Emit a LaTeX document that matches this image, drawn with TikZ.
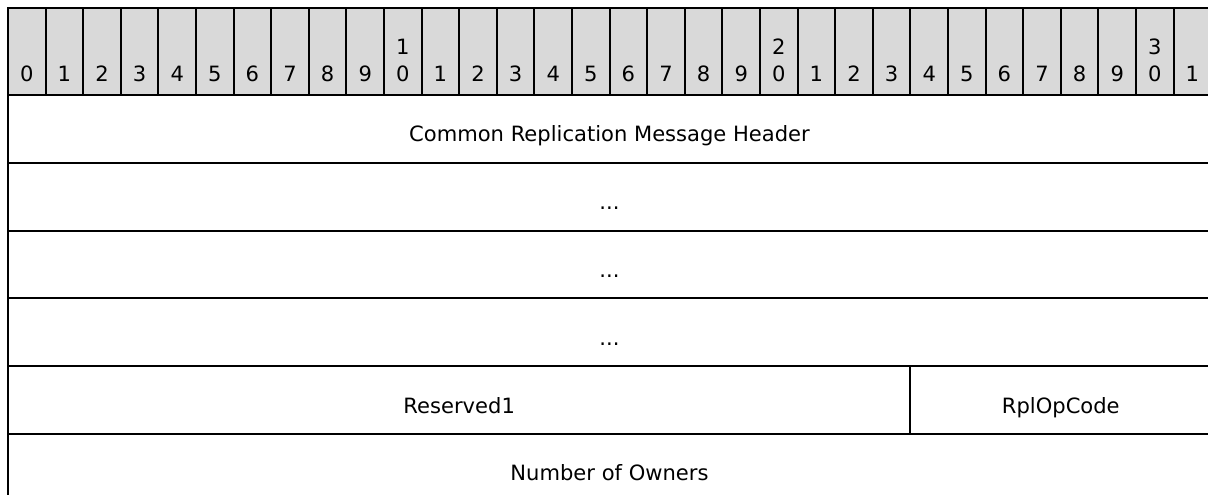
\documentclass[tikz,border=0pt]{standalone}
\usepackage{fontspec}
\setmainfont{DejaVu Sans}
\usetikzlibrary{positioning}
\definecolor{hdrgray}{HTML}{D9D9D9}
\newcommand{\bitw}{28.2pt}
\newcommand{\rowh}{50.85pt}

\tikzset{
  bitcell/.style={draw,line width=1.5pt,fill=hdrgray,minimum width=\bitw,minimum height=65.25pt,inner sep=0pt,outer sep=0pt,anchor=north west},
  bitnum/.style={font=\fontsize{15.8}{18}\selectfont,inner sep=0pt,anchor=base},
  field/.style={draw,line width=1.5pt,minimum height=\rowh,inner sep=0pt,outer sep=0pt,text height=19.65pt,text depth=0pt,font=\fontsize{15.8}{19}\selectfont},
  fullrow/.style={field,minimum width=902.25pt}
}

\begin{document}
\begin{tikzpicture}
    \useasboundingbox (0,0) rectangle (906pt,-371.25pt);
    \clip (0,0) rectangle (906pt,-371.25pt);
    % bit numbers
    \foreach \i in {0,...,31} {
      \pgfmathtruncatemacro{\ones}{mod(\i,10)}
      \pgfmathtruncatemacro{\tens}{div(\i,10)}
      \node[bitcell] (b\i) at ({6pt+\i*\bitw},-6pt) {};
      \node[bitnum] (d\i) at ([yshift=9.75pt]b\i.south) {\ones};
      \ifnum\ones=0 \ifnum\i>0
        \node[bitnum] (t\i) at ([yshift=30pt]b\i.south) {\tens};
      \fi\fi
    }
    % fields
    \node[fullrow,anchor=north west] (crmh) at (b0.south west) {Common Replication Message Header};
    \node[fullrow,below=0pt of crmh] (more1) {...};
    \node[fullrow,below=0pt of more1] (more2) {...};
    \node[fullrow,below=0pt of more2] (more3) {...};
    \node[field,minimum width=676.8pt,below=0pt of more3.south west,anchor=north west] (res1) {Reserved1};
    \node[field,minimum width=225.6pt,right=0pt of res1] (opcode) {RplOpCode};
    \node[fullrow,below=0pt of res1.south west,anchor=north west] (owners) {Number of Owners};
\end{tikzpicture}
\end{document}
